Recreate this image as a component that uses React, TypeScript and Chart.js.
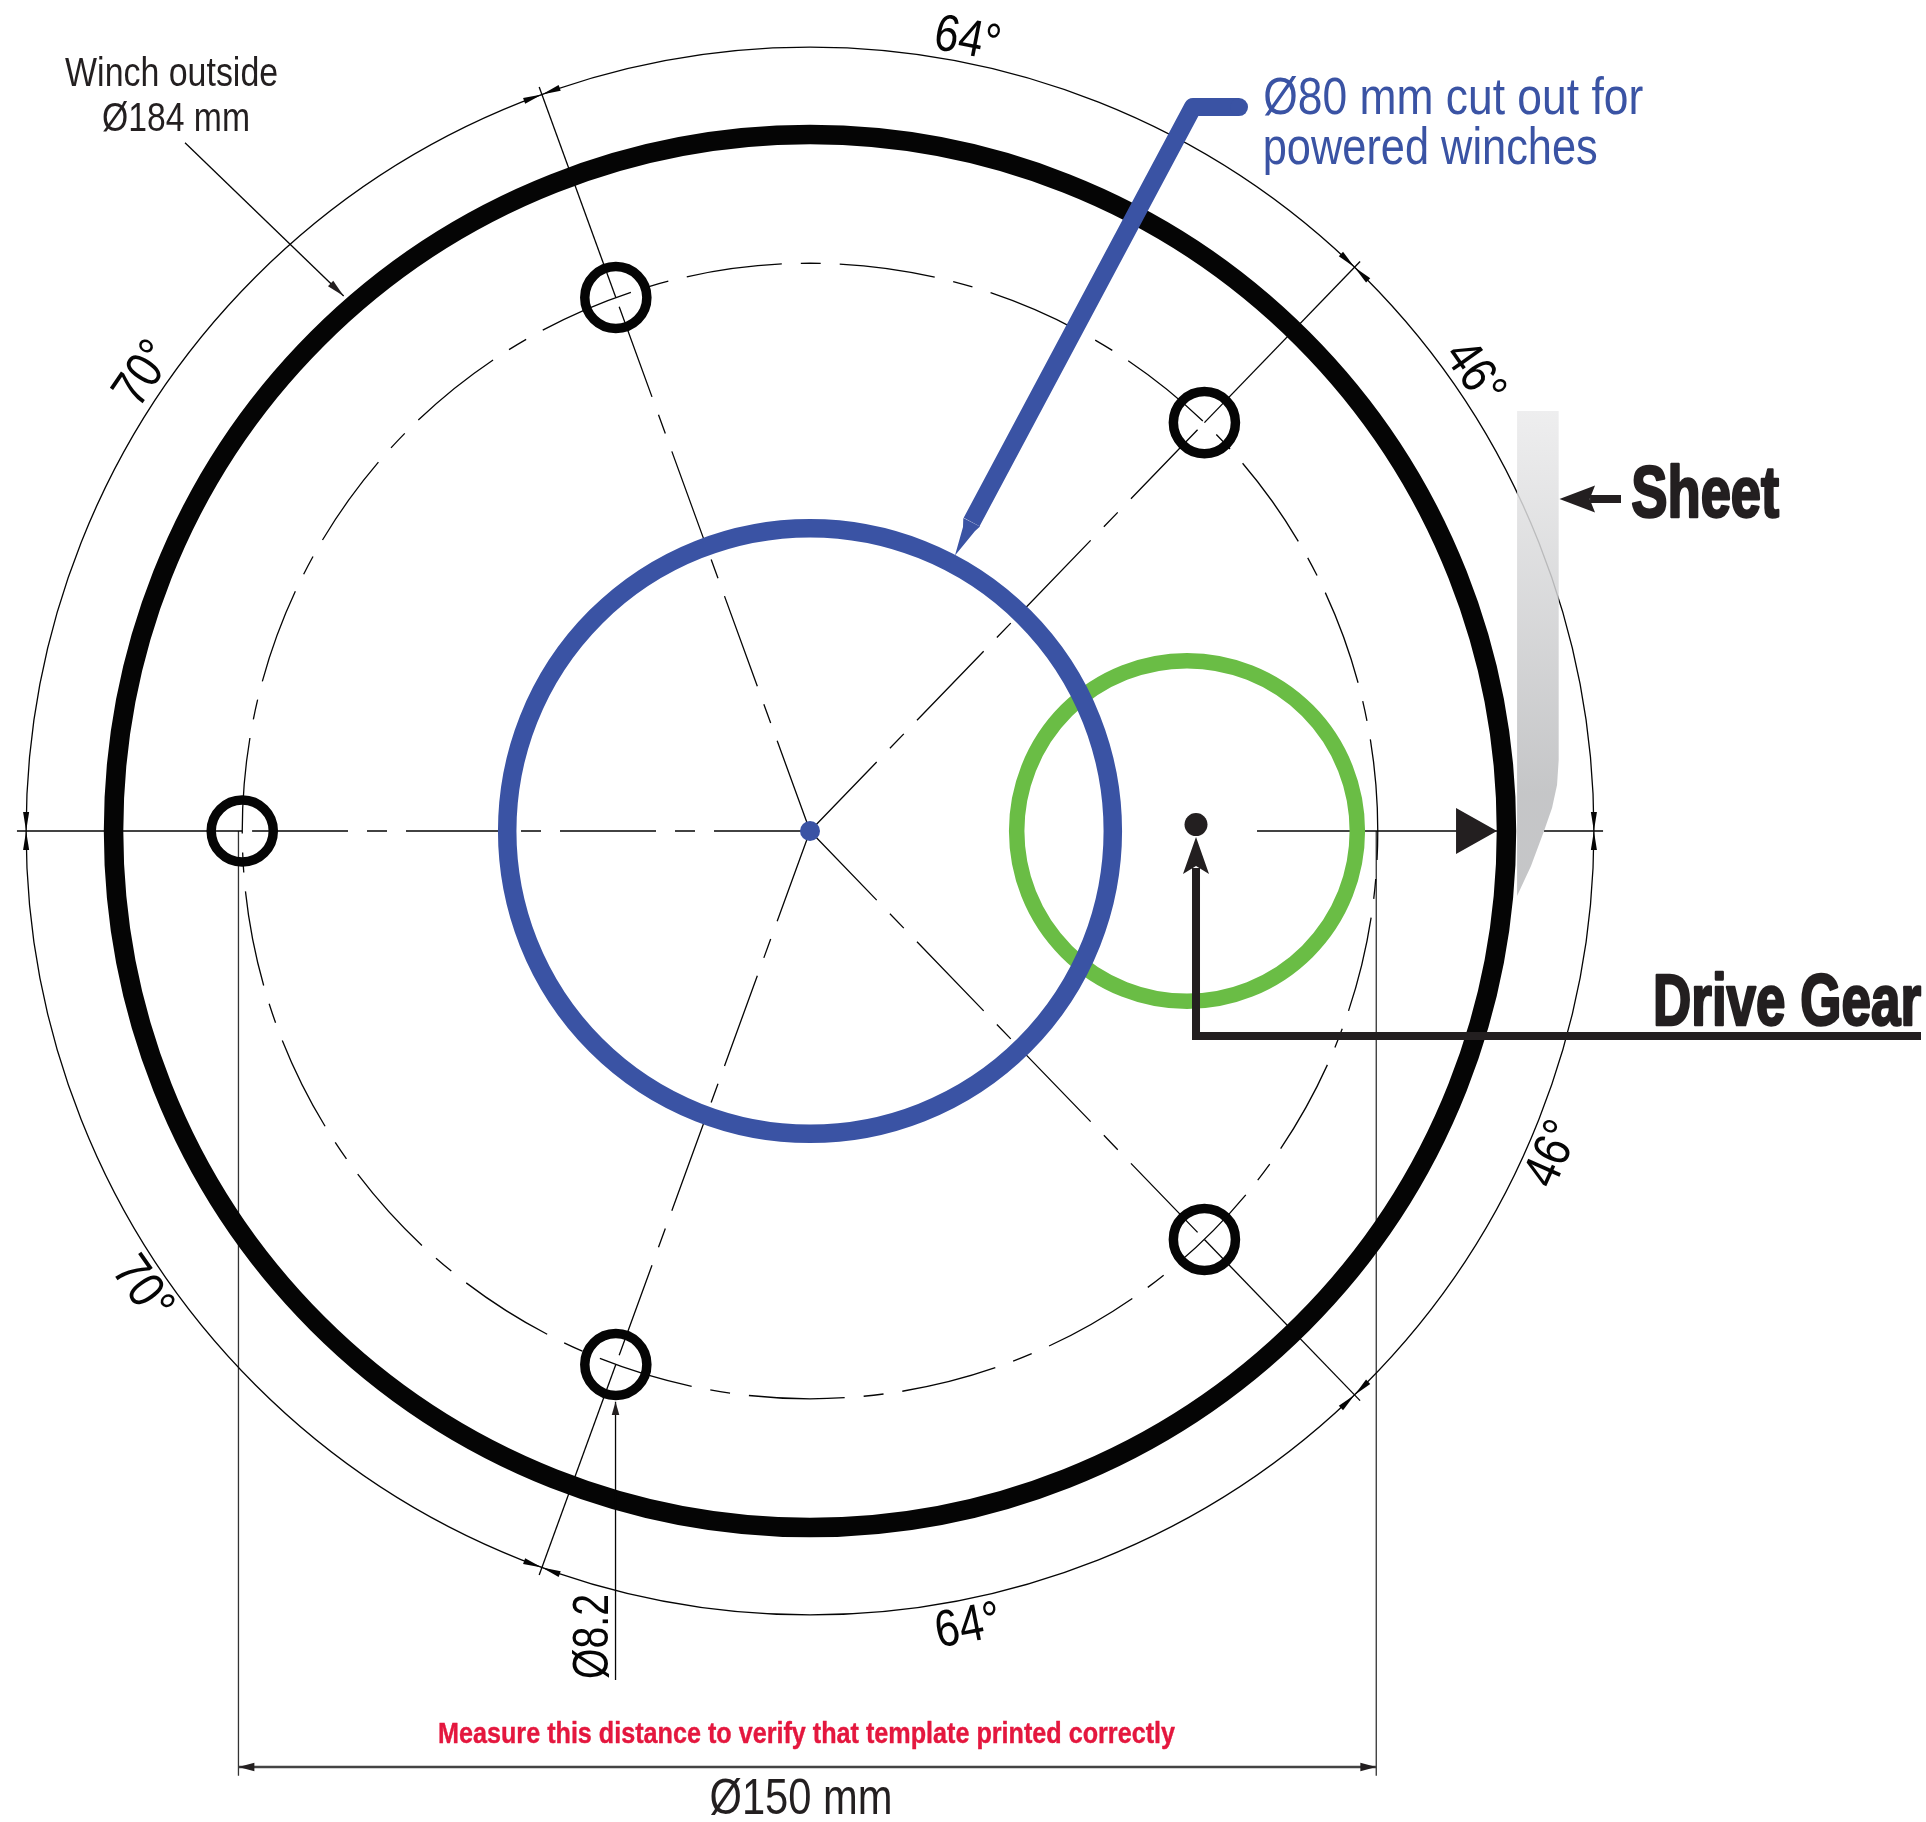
import React, { useEffect, useRef } from "react";
import { Chart, registerables } from "chart.js";

Chart.register(...registerables);

// ---- Values (millimetres / degrees, origin at winch axis) ----
const holeAngles = [180, 110, 46, -46, -110];
const arrowAngles = [0, 46, 110, 180, -110, -46];
const boltCircleDiameter = 150;
const winchDiameter = 184;
const angleCircleDiameter = 207.1;
const cutoutDiameter = 80;
const holeDiameter = 8.2;
const gearDiameter = 45;
const gearCentre = { x: 49.8, y: 0 };
const driveDot = { x: 50.99, y: 0.86 };
const dashedRadialEnd = 73.7;
const solidRadialEnd = 104.6;

const leftAxis = [{ x: -104.76, y: 0 }, { x: -75, y: 0 }];
const rightAxisInner = [{ x: 59.05, y: 0 }, { x: 90.75, y: 0 }];
const rightAxisOuter = [{ x: 96.96, y: 0 }, { x: 104.76, y: 0 }];
const rightAxisHead = [{ x: 90.75, y: 0 }, { x: 85.34, y: 3.05 }, { x: 85.34, y: -3.05 }];

const sheetOutline = [
  { x: 93.4, y: 55.48 }, { x: 98.9, y: 55.48 }, { x: 98.9, y: 9.38 }, { x: 98.68, y: 6.08 },
  { x: 98.02, y: 3.04 }, { x: 96.96, y: 0 }, { x: 95.24, y: -4.62 }, { x: 93.4, y: -8.59 },
];
const sheetPointerLine = [{ x: 107.13, y: 43.86 }, { x: 103.04, y: 43.86 }];
const sheetPointerHead = [{ x: 99.0, y: 43.86 }, { x: 103.7, y: 45.64 }, { x: 102.99, y: 43.86 }, { x: 103.7, y: 42.07 }];

const driveLeader = [{ x: 146.76, y: -27.08 }, { x: 50.99, y: -27.08 }, { x: 50.99, y: -4.89 }];
const driveHead = [{ x: 50.99, y: -0.79 }, { x: 49.27, y: -5.68 }, { x: 50.99, y: -4.62 }, { x: 52.71, y: -5.68 }];

const cutoutLeader = [{ x: 56.67, y: 95.64 }, { x: 50.59, y: 95.64 }, { x: 21.35, y: 40.82 }];
const cutoutTip = [{ x: 20.25, y: 41.35 }, { x: 20.21, y: 40.16 }, { x: 19.15, y: 36.39 }, { x: 21.8, y: 39.63 }, { x: 22.46, y: 40.22 }];

const dimLeft = [{ x: -75.5, y: 0 }, { x: -75.5, y: -124.8 }];
const dimRight = [{ x: 74.8, y: 0 }, { x: 74.8, y: -124.8 }];
const dimSpan = [{ x: -75.5, y: -123.64 }, { x: 74.8, y: -123.64 }];
const holeLeader = [{ x: -25.69, y: -112.15 }, { x: -25.69, y: -75.39 }];
const winchPointer = [{ x: -82.56, y: 90.92 }, { x: -61.6, y: 70.67 }];

const labelTexts = {
  winch1: "Winch outside", winch2: "Ø184 mm", cut1: "Ø80 mm cut out for", cut2: "powered winches",
  sheet: "Sheet", drive: "Drive Gear", total: "Ø150 mm", hole: "Ø8.2",
  note: "Measure this distance to verify that template printed correctly",
  a64: "64°", a46: "46°", a70: "70°",
};

const INK = "#231f20";
const BLACK = "#050505";
const BLUE = "#3a53a4";
const GREEN = "#6abd45";
const RED = "#e4173e";

// x, y in mm at the centre of the cap height; size and target width in px
const labels = [
  { t: labelTexts.winch1, x: -84.33, y: 100.4, r: 0, s: 41, w: 213, c: INK },
  { t: labelTexts.winch2, x: -83.75, y: 94.4, r: 0, s: 41, w: 148, c: INK },
  { t: labelTexts.cut1, x: 84.97, y: 97.2, r: 0, s: 52, w: 380, c: BLUE },
  { t: labelTexts.cut2, x: 81.93, y: 90.6, r: 0, s: 52, w: 335, c: BLUE },
  { t: labelTexts.sheet, x: 118.25, y: 44.9, r: 0, s: 72, w: 148, c: INK, b: true, h: 2.6 },
  { t: labelTexts.drive, x: 129.06, y: -22.27, r: 0, s: 72, w: 268, c: INK, b: true, h: 2.6 },
  { t: labelTexts.total, x: -1.19, y: -127.47, r: 0, s: 50, w: 183, c: INK },
  { t: labelTexts.note, x: -0.46, y: -119.07, r: 0, s: 30, w: 737, c: RED, b: true, h: 0.4 },
  { t: labelTexts.a64, x: 20.87, y: 105.0, r: 11, s: 52, w: 66, c: BLACK },
  { t: labelTexts.a46, x: 88.13, y: 60.7, r: 55, s: 52, w: 66, c: BLACK },
  { t: labelTexts.a70, x: -88.35, y: 60.63, r: -56, s: 52, w: 66, c: BLACK },
  { t: labelTexts.a70, x: -87.85, y: -60.2, r: 55, s: 52, w: 66, c: BLACK },
  { t: labelTexts.a46, x: 97.7, y: -42.5, r: -66, s: 52, w: 66, c: BLACK },
  { t: labelTexts.a64, x: 20.8, y: -104.65, r: -11, s: 52, w: 66, c: BLACK },
  { t: labelTexts.hole, x: -29.1, y: -106.4, r: -90, s: 50, w: 85, c: BLACK },
];

// ---- Geometry helpers ----
const polar = (deg: number, r: number) => ({
  x: r * Math.cos((deg * Math.PI) / 180),
  y: r * Math.sin((deg * Math.PI) / 180),
});
const head = (tip: { x: number; y: number }, dirDeg: number, len: number, half: number) => {
  const d = polar(dirDeg, 1);
  return [
    tip,
    { x: tip.x - d.x * len - d.y * half, y: tip.y - d.y * len + d.x * half },
    { x: tip.x - d.x * len + d.y * half, y: tip.y - d.y * len - d.x * half },
  ];
};

const line = (data: any[], color = BLACK, width = 1.3, extra: any = {}) => ({
  type: "scatter", data, showLine: true, fill: false, borderColor: color, borderWidth: width,
  pointRadius: 0, tension: 0, clip: false, ...extra,
});
const poly = (data: any[], color: any = INK) => ({
  type: "scatter", data, showLine: true, fill: "shape", backgroundColor: color, borderWidth: 0,
  borderColor: "transparent", pointRadius: 0, tension: 0, clip: false,
});
const mmToPx = (c: any, mm: number) => {
  const v = Math.abs(c.chart.scales.x.getPixelForValue(mm) - c.chart.scales.x.getPixelForValue(0));
  return Number.isFinite(v) ? v : 0;
};
const circle = (centre: any, diameter: number, color: string, width: number, extra: any = {}) => ({
  type: "scatter", data: [centre], showLine: false, clip: false,
  pointStyle: "circle",
  pointRadius: (c: any) => mmToPx(c, diameter / 2),
  pointHoverRadius: (c: any) => mmToPx(c, diameter / 2),
  pointBorderWidth: width, pointBorderColor: color, pointBackgroundColor: "rgba(0,0,0,0)", ...extra,
});
const dot = (centre: any, radius: number, color: string) => ({
  type: "scatter", data: [centre], showLine: false, clip: false, pointStyle: "circle",
  pointRadius: radius, pointBorderWidth: 0, pointBackgroundColor: color,
});

const CENTRELINE = [96, 19, 20, 19];
const origin = { x: 0, y: 0 };

const buildDatasets = () => {
  const list: any[] = [
    line(dimLeft, "#333333", 1.3),
    line(dimRight, "#333333", 1.3),
    line(dimSpan, "#444444", 2.4),
    poly(head({ x: -75.5, y: -123.64 }, 180, 2.1, 0.55), INK),
    poly(head({ x: 74.8, y: -123.64 }, 0, 2.1, 0.55), INK),
    circle(origin, boltCircleDiameter, BLACK, 1.3, { circleDash: CENTRELINE, circleDashOffset: 67 }),
    circle(origin, angleCircleDiameter, BLACK, 1.3),
    line(leftAxis),
    line(rightAxisInner),
    line(rightAxisOuter),
    ...holeAngles.map((a) => line([origin, polar(a, dashedRadialEnd)], BLACK, 1.3, { borderDash: CENTRELINE })),
    ...holeAngles.filter((a) => a !== 180).map((a) =>
      line([polar(a, boltCircleDiameter / 2), polar(a, solidRadialEnd)])),
    circle(origin, winchDiameter, BLACK, 19.5),
    line(holeLeader),
    poly(head(holeLeader[1], 90, 1.75, 0.5), INK),
    line(winchPointer),
    poly(head(winchPointer[1], -44, 2.4, 0.5), INK),
    ...arrowAngles.flatMap((a) => [
      poly(head(polar(a, angleCircleDiameter / 2), a - 90, 2.5, 0.4), BLACK),
      poly(head(polar(a, angleCircleDiameter / 2), a + 90, 2.5, 0.4), BLACK),
    ]),
    ...holeAngles.map((a) => circle(polar(a, boltCircleDiameter / 2), holeDiameter, BLACK, 9.5)),
    poly(sheetOutline, (c: any) => {
      const { ctx, scales } = c.chart;
      const top = scales.y ? scales.y.getPixelForValue(55.48) : NaN;
      const bottom = scales.y ? scales.y.getPixelForValue(5) : NaN;
      if (!Number.isFinite(top) || !Number.isFinite(bottom)) return "#cccccc";
      const g = ctx.createLinearGradient(0, top, 0, bottom);
      g.addColorStop(0, "rgba(235,235,236,0.85)");
      g.addColorStop(1, "rgba(187,188,190,0.85)");
      return g;
    }),
    line(sheetPointerLine, INK, 8),
    poly(sheetPointerHead, INK),
    poly(rightAxisHead, INK),
    circle(gearCentre, gearDiameter, GREEN, 15.5),
    line(driveLeader, INK, 8, { borderJoinStyle: "miter" }),
    poly(driveHead, INK),
    dot(driveDot, 11.5, INK),
    circle(origin, cutoutDiameter, BLUE, 18.5),
    dot(origin, 10, BLUE),
    line(cutoutLeader, BLUE, 18, { borderJoinStyle: "round" }),
    dot(cutoutLeader[0], 9, BLUE),
    poly(cutoutTip, BLUE),
  ];
  // first dataset is painted first
  return list.map((d, i) => ({ ...d, order: list.length - i }));
};

const dashPlugin = {
  id: "circleDash",
  beforeDatasetDraw(chart: any, args: any) {
    const ds = chart.data.datasets[args.index];
    if (ds.circleDash) {
      chart.ctx.setLineDash(ds.circleDash);
      chart.ctx.lineDashOffset = ds.circleDashOffset || 0;
    }
  },
  afterDatasetDraw(chart: any, args: any) {
    const ds = chart.data.datasets[args.index];
    if (ds.circleDash) {
      chart.ctx.setLineDash([]);
      chart.ctx.lineDashOffset = 0;
    }
  },
};

const labelPlugin = {
  id: "drawingLabels",
  afterDatasetsDraw(chart: any) {
    const { ctx, scales } = chart;
    for (const l of labels as any[]) {
      ctx.save();
      ctx.font = `${l.b ? "bold " : ""}${l.s}px "Liberation Sans Narrow", "Liberation Sans", sans-serif`;
      ctx.textAlign = "center";
      ctx.textBaseline = "alphabetic";
      ctx.fillStyle = l.c;
      const natural = ctx.measureText(l.t).width;
      ctx.translate(scales.x.getPixelForValue(l.x), scales.y.getPixelForValue(l.y));
      ctx.rotate((l.r * Math.PI) / 180);
      ctx.scale(l.w / natural, 1);
      ctx.fillText(l.t, 0, l.s * 0.358);
      if (l.h) {
        ctx.strokeStyle = l.c;
        ctx.lineWidth = l.h;
        ctx.lineJoin = "round";
        ctx.strokeText(l.t, 0, l.s * 0.358);
      }
      ctx.restore();
    }
  },
};

export default function App() {
  const ref = useRef<HTMLCanvasElement>(null);
  useEffect(() => {
    const chart = new Chart(ref.current as any, {
      type: "scatter",
      data: { datasets: buildDatasets() as any },
      options: {
        animation: false,
        responsive: false,
        devicePixelRatio: 1,
        events: [],
        layout: { padding: 0, autoPadding: false },
        plugins: { legend: { display: false }, tooltip: { enabled: false } },
        scales: {
          x: { type: "linear", display: false, min: -107.0, max: 147.42 },
          y: { type: "linear", display: false, min: -130.91, max: 109.78 },
        },
      } as any,
      plugins: [dashPlugin, labelPlugin] as any,
    });
    return () => chart.destroy();
  }, []);
  return (
    <div style={{ position: "absolute", left: 0, top: 0, width: 1926, height: 1822, background: "#fff" }}>
      <canvas ref={ref} width={1926} height={1822} style={{ display: "block" }} />
    </div>
  );
}
